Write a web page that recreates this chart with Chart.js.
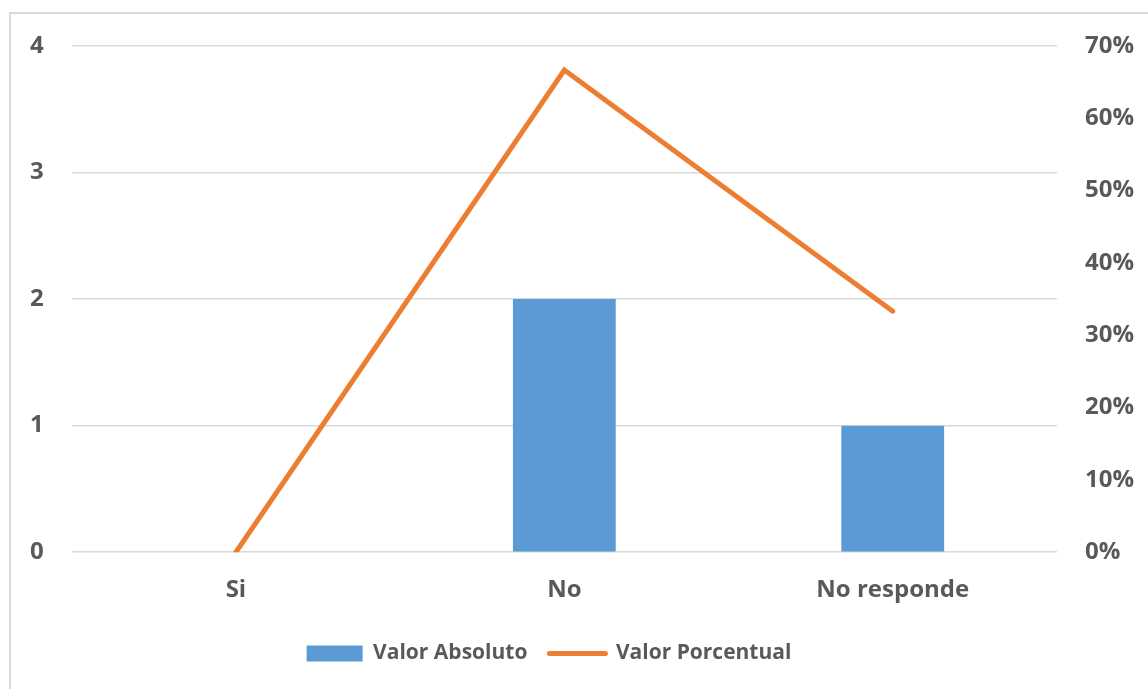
<!DOCTYPE html>
<html>
<head>
<meta charset="utf-8">
<script src="https://cdn.jsdelivr.net/npm/chart.js@4.4.1/dist/chart.umd.min.js"></script>
<style>
  html, body { margin: 0; padding: 0; background: #fff; overflow: hidden; }
  .marco { position: absolute; left: 9px; top: 12px; width: 1300px; height: 800px; border: 2px solid #d9d9d9; }
  .caja { position: absolute; left: 0; top: 0; width: 1148px; height: 689px; }
</style>
</head>
<body>
<div class="marco"></div>
<div class="caja"><canvas id="myChart"></canvas></div>
<script>
let categorias = ['Si', 'No', 'No responde'];
let valorAbsoluto = [0, 2, 1];
let valorPorcentual = [0, 66.67, 33.33];

const gris = '#595959';
const fuente = { family: "'Open Sans', sans-serif", size: 24, weight: 'bold' };
const fuenteLeyenda = { family: "'Open Sans', sans-serif", size: 21, weight: 'bold' };

// mover la leyenda un poco a la izquierda, como en el original
const moverLeyenda = {
    id: 'moverLeyenda',
    afterLayout(chart) {
        chart.legend.left -= 33;
        chart.legend.right -= 33;
    }
};

let ctx = document.getElementById('myChart').getContext('2d');
let myChart = new Chart(ctx, {
    data: {
        labels: categorias,
        datasets: [{
            type: 'line',
            label: 'Valor Porcentual',
            data: valorPorcentual,
            yAxisID: 'y2',
            borderColor: '#ed7d31',
            backgroundColor: '#ed7d31',
            borderWidth: 5,
            borderCapStyle: 'round',
            borderJoinStyle: 'miter',
            pointRadius: 0,
            tension: 0,
            order: 1,
        },{
            type: 'bar',
            label: 'Valor Absoluto',
            data: valorAbsoluto,
            yAxisID: 'y',
            backgroundColor: '#5b9bd5',
            barPercentage: 1,
            categoryPercentage: 0.313,
            order: 2,
        }]
    },
    options: {
        responsive: true,
        maintainAspectRatio: false,
        animation: false,
        layout: { padding: { left: 2, right: -14, top: 46, bottom: 15 } },
        scales: {
            x: {
                grid: { display: false },
                border: { display: false },
                ticks: { color: gris, font: fuente, padding: 16 }
            },
            y: {
                position: 'left',
                min: 0, max: 4,
                ticks: { stepSize: 1, color: gris, font: fuente, padding: 28 },
                grid: { color: '#d9d9d9', lineWidth: 1.5, drawTicks: false },
                border: { display: false }
            },
            y2: {
                position: 'right',
                min: 0, max: 70,
                ticks: {
                    stepSize: 10, color: gris, font: fuente, padding: 28,
                    callback: function(v){ return v + '%'; }
                },
                grid: { display: false, drawTicks: false },
                border: { display: false }
            }
        },
        plugins: {
            legend: {
                position: 'bottom',
                reverse: true,
                labels: {
                    color: gris,
                    font: fuenteLeyenda,
                    usePointStyle: true,
                    pointStyleWidth: 56,
                    boxHeight: 16,
                    padding: 22,
                    generateLabels: function(chart){
                        let items = Chart.defaults.plugins.legend.labels.generateLabels(chart);
                        items.forEach(function(it){
                            if (it.datasetIndex === 0) {
                                it.pointStyle = 'line';
                                it.lineWidth = 5;
                                it.strokeStyle = '#ed7d31';
                                it.lineCap = 'round';
                            } else {
                                it.pointStyle = 'rect';
                                it.lineWidth = 0;
                            }
                        });
                        return items;
                    }
                }
            },
            tooltip: { enabled: false }
        }
    },
    plugins: [moverLeyenda]
});
</script>
</body>
</html>
